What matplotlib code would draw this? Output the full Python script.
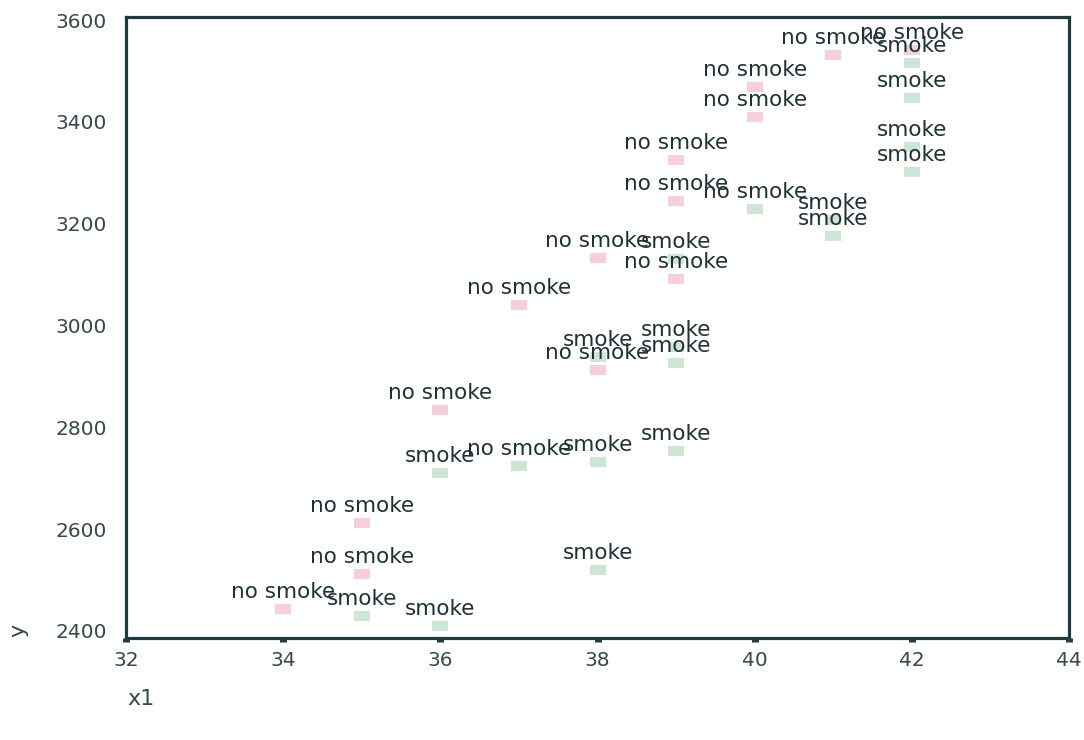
import matplotlib.pyplot as plt

# gestation (x1), birth weight (y), smoking group
x1 = [34, 35, 36, 35, 35, 38, 36, 37, 38, 39, 36, 38, 38, 39, 39, 37,
      38, 39, 39, 39, 39, 40, 41, 41, 41, 42, 42, 42, 42, 42, 40, 40]
y = [2443, 2429, 2410, 2512, 2612, 2520, 2710, 2724, 2732, 2754, 2834, 2913,
     2938, 2926, 2958, 3040, 3133, 3091, 3131, 3245, 3325, 3229, 3176, 3207,
     3531, 3516, 3541, 3447, 3301, 3351, 3409, 3468]
group = ['no', 'yes', 'yes', 'no', 'no', 'yes', 'yes', 'yes', 'yes', 'yes', 'no', 'no',
         'yes', 'yes', 'yes', 'no', 'no', 'no', 'yes', 'no', 'no', 'yes', 'yes', 'yes',
         'no', 'yes', 'no', 'yes', 'yes', 'yes', 'no', 'no']
labels = ['no smoke', 'smoke', 'smoke', 'no smoke', 'no smoke', 'smoke', 'smoke', 'no smoke',
          'smoke', 'smoke', 'no smoke', 'no smoke', 'smoke', 'smoke', 'smoke', 'no smoke',
          'no smoke', 'no smoke', 'smoke', 'no smoke', 'no smoke', 'no smoke', 'smoke', 'smoke',
          'no smoke', 'smoke', 'no smoke', 'smoke', 'smoke', 'smoke', 'no smoke', 'no smoke']
xticks = [32, 34, 36, 38, 40, 42, 44]
yticks = [2400, 2600, 2800, 3000, 3200, 3400, 3600]

colors = {'no': '#f6cedc', 'yes': '#cde6d4'}
dark = '#1f3b3f'
rect = [(-1, -0.55), (1, -0.55), (1, 0.55), (-1, 0.55), (-1, -0.55)]

fig = plt.figure(figsize=(10.84, 7.4), dpi=100)
ax = fig.add_axes([0.1162, 0.1378, 0.8700, 0.8392])

for g in ['no', 'yes']:
    xs = [a for a, k in zip(x1, group) if k == g]
    ys = [b for b, k in zip(y, group) if k == g]
    ax.plot(xs, ys, linestyle='none', marker=rect, markersize=12,
            color=colors[g], markeredgewidth=0)

for a, b, t in zip(x1, y, labels):
    ax.annotate(t, (a, b), xytext=(0, 8), textcoords='offset points',
                ha='center', va='baseline', fontsize=15.5, color='#1e3236')

ax.set_xlim(32, 44)
ax.set_ylim(2386, 3606)
ax.set_xticks(xticks)
ax.set_yticks(yticks)
ax.tick_params(axis='x', length=3, width=5, color=dark, labelsize=14.5,
               labelcolor='#35484b', pad=6)
ax.tick_params(axis='y', length=0, labelsize=14.5, labelcolor='#35484b', pad=14)
for s in ax.spines.values():
    s.set_linewidth(2.3)
    s.set_color(dark)

ax.set_xlabel('x1', fontsize=16, color='#35484b')
ax.xaxis.set_label_coords(0.016, -0.082)
ax.set_ylabel('y', fontsize=16, color='#35484b')
ax.yaxis.set_label_coords(-0.104, 0.012)

fig.savefig('out.png', dpi=100)
